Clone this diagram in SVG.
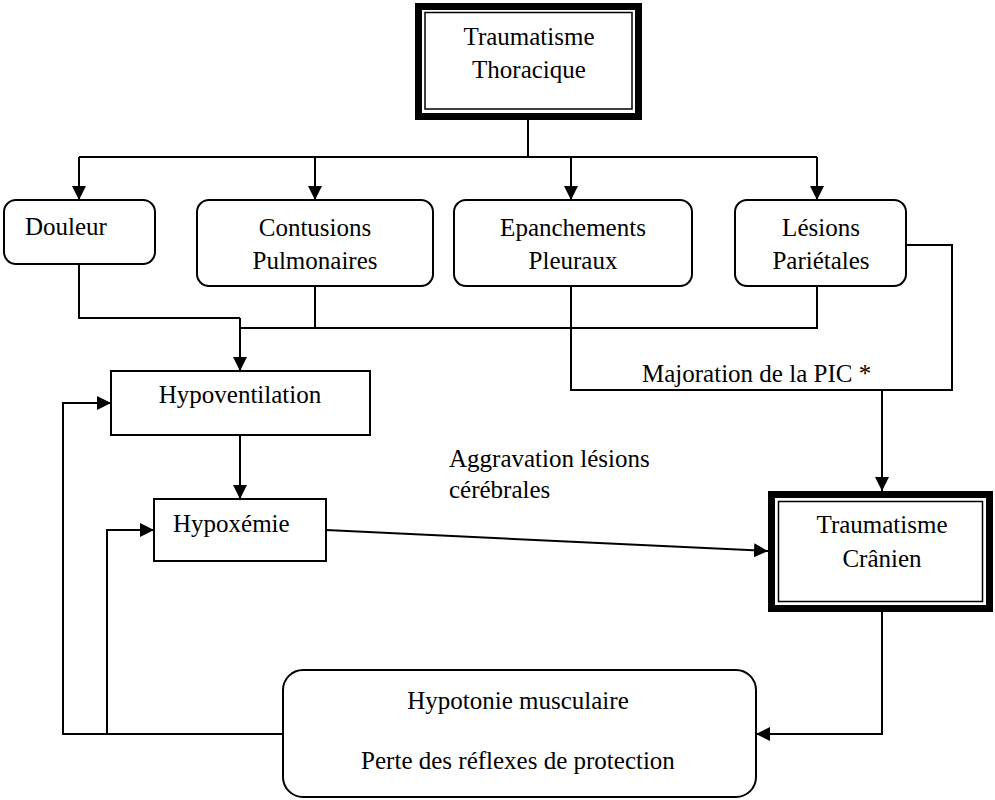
<svg xmlns="http://www.w3.org/2000/svg" width="995" height="800" viewBox="0 0 995 800">
<style>
text{font-family:"Liberation Serif","Times New Roman",serif;font-size:25px;fill:#000}
.c{text-anchor:middle}
.box{fill:#fff;stroke:#000;stroke-width:2}
.thick{fill:#fff;stroke:#000;stroke-width:7}
.thin{fill:none;stroke:#000;stroke-width:1.5}
.ln{fill:none;stroke:#000;stroke-width:2}
</style>
<defs>
<marker id="ah" markerWidth="14" markerHeight="14" refX="14" refY="7" orient="auto" markerUnits="userSpaceOnUse"><path d="M0,0 L14,7 L0,14 z" fill="#000"/></marker>
</defs>
<rect width="995" height="800" fill="#fff"/>
<g id="connectors">
<path class="ln" d="M528,120 V157 M79,157 H817"/>
<path class="ln" d="M79,157 V200" marker-end="url(#ah)"/>
<path class="ln" d="M315,157 V200" marker-end="url(#ah)"/>
<path class="ln" d="M571,157 V200" marker-end="url(#ah)"/>
<path class="ln" d="M817,157 V200" marker-end="url(#ah)"/>
<path class="ln" d="M79,264 V318 H240 M315,286 V328 M817,286 V328 H240"/>
<path class="ln" d="M240,318 V371" marker-end="url(#ah)"/>
<path class="ln" d="M571,286 V390 H952 V245 H906"/>
<path class="ln" d="M882,390 V491" marker-end="url(#ah)"/>
<path class="ln" d="M240,435 V499" marker-end="url(#ah)"/>
<path class="ln" d="M326,530 L768,551" marker-end="url(#ah)"/>
<path class="ln" d="M882,612 V734 H756" marker-end="url(#ah)"/>
<path class="ln" d="M283,734 H63 V403 H111" marker-end="url(#ah)"/>
<path class="ln" d="M107,734 V530 H154" marker-end="url(#ah)"/>
</g>
<g id="trauma-thoracique">
<rect class="thick" x="418.5" y="6.5" width="220" height="110"/>
<rect class="thin" x="425" y="12.5" width="207" height="96.5"/>
<text class="c" x="529" y="45">Traumatisme</text>
<text class="c" x="529" y="78">Thoracique</text>
</g>
<g id="douleur">
<rect class="box" x="4" y="200" width="151" height="64" rx="12"/>
<text x="25" y="235">Douleur</text>
</g>
<g id="contusions">
<rect class="box" x="197" y="200" width="236" height="86" rx="12"/>
<text class="c" x="315" y="236">Contusions</text>
<text class="c" x="315" y="269">Pulmonaires</text>
</g>
<g id="epanchements">
<rect class="box" x="454" y="200" width="238" height="86" rx="12"/>
<text class="c" x="573" y="236">Epanchements</text>
<text class="c" x="573" y="269">Pleuraux</text>
</g>
<g id="lesions">
<rect class="box" x="735" y="200" width="171" height="86" rx="12"/>
<text class="c" x="821" y="236">Lésions</text>
<text class="c" x="821" y="269">Pariétales</text>
</g>
<g id="pic-label">
<text x="642" y="382">Majoration de la PIC *</text>
</g>
<g id="hypoventilation">
<rect class="box" x="111" y="371" width="259" height="64"/>
<text class="c" x="240" y="403">Hypoventilation</text>
</g>
<g id="aggravation-label">
<text x="449" y="467">Aggravation lésions</text>
<text x="449" y="498">cérébrales</text>
</g>
<g id="hypoxemie">
<rect class="box" x="154" y="499" width="172" height="62"/>
<text x="173" y="532">Hypoxémie</text>
</g>
<g id="trauma-cranien">
<rect class="thick" x="771.5" y="494.5" width="218" height="114"/>
<rect class="thin" x="778.5" y="501.5" width="204" height="100"/>
<text class="c" x="882" y="533">Traumatisme</text>
<text class="c" x="882" y="567">Crânien</text>
</g>
<g id="hypotonie">
<rect class="box" x="283" y="670" width="473" height="127" rx="20"/>
<text class="c" x="518" y="709">Hypotonie musculaire</text>
<text class="c" x="518" y="769">Perte des réflexes de protection</text>
</g>
</svg>
